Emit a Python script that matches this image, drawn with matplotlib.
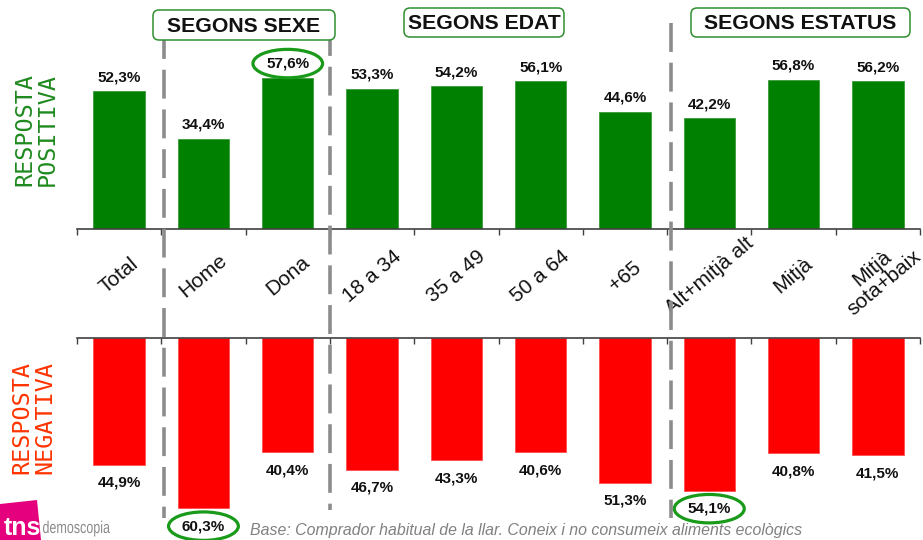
import matplotlib
matplotlib.use("Agg")
import matplotlib.pyplot as plt
from matplotlib.patches import FancyBboxPatch, Polygon, PathPatch
from matplotlib.lines import Line2D
from matplotlib.textpath import TextPath
from matplotlib.font_manager import FontProperties
from matplotlib.transforms import blended_transform_factory, Affine2D, IdentityTransform

# ---- data ----
categories = ["Total", "Home", "Dona", "18 a 34", "35 a 49", "50 a 64", "+65",
              "Alt+mitjà alt", "Mitjà", "Mitjà\nsota+baix"]
positive = [52.3, 34.4, 57.6, 53.3, 54.2, 56.1, 44.6, 42.2, 56.8, 56.2]
negative = [44.9, 60.3, 40.4, 46.7, 43.3, 40.6, 51.3, 54.1, 40.8, 41.5]
highlight_pos = ["Dona"]
highlight_neg = ["Home", "Alt+mitjà alt"]
group_titles = ["SEGONS SEXE", "SEGONS EDAT", "SEGONS ESTATUS"]
footnote = "Base: Comprador habitual de la llar. Coneix i no consumeix aliments ecològics"

def fmt(v):
    return f"{v:.1f}%".replace(".", ",")

W, H = 923, 540
fig = plt.figure(figsize=(W / 100, H / 100), dpi=100)
fig.patch.set_facecolor("white")

def fx(px):
    return px / W

def fy(py):
    return 1 - py / H

x = list(range(len(categories)))
bar_w = 0.61
GREEN = "#008000"
RED = "#FF0000"
RING = "#1a9a1a"
AXIS_C = "#404040"

# top panel (positive answers)
ax_top = fig.add_axes([fx(77), fy(229), fx(920) - fx(77), fy(0) - fy(229)])
ax_top.bar(x, positive, width=bar_w, color=GREEN, edgecolor="#3c9a3c", linewidth=0.6)
ax_top.set_xlim(-0.5, len(categories) - 0.5)
ax_top.set_ylim(0, 229 / 2.63)
for s in ["top", "left", "right"]:
    ax_top.spines[s].set_visible(False)
ax_top.spines["bottom"].set_color(AXIS_C)
ax_top.spines["bottom"].set_linewidth(1.2)
ax_top.set_yticks([])
ax_top.set_xticks([i - 0.5 for i in range(len(categories) + 1)])
ax_top.set_xticklabels([])
ax_top.tick_params(axis="x", direction="out", length=4, color=AXIS_C, width=1.0)
ax_top.patch.set_alpha(0)

for xi, cat, v in zip(x, categories, positive):
    kw = {}
    if cat in highlight_pos:
        kw["bbox"] = dict(boxstyle="ellipse,pad=0.2", fc="none", ec=RING, lw=2.3)
    ax_top.annotate(fmt(v), (xi, v), xytext=(0, 5), textcoords="offset points",
                    ha="center", va="bottom", fontsize=11, fontweight="bold",
                    family="Liberation Sans", color="#111111", **kw)

# bottom panel (negative answers)
ax_bot = fig.add_axes([fx(77), fy(540), fx(920) - fx(77), fy(338) - fy(540)])
ax_bot.bar(x, negative, width=bar_w, color=RED, edgecolor="#ff5050", linewidth=0.6)
ax_bot.set_xlim(-0.5, len(categories) - 0.5)
ax_bot.set_ylim(202 / 2.82, 0)
for s in ["bottom", "left", "right"]:
    ax_bot.spines[s].set_visible(False)
ax_bot.spines["top"].set_color(AXIS_C)
ax_bot.spines["top"].set_linewidth(1.2)
ax_bot.set_yticks([])
ax_bot.xaxis.tick_top()
ax_bot.set_xticks([i - 0.5 for i in range(len(categories) + 1)])
ax_bot.set_xticklabels([])
ax_bot.tick_params(axis="x", direction="in", length=4, color=AXIS_C, width=1.0)
ax_bot.patch.set_alpha(0)

for xi, cat, v in zip(x, categories, negative):
    kw = {}
    if cat in highlight_neg:
        kw["bbox"] = dict(boxstyle="ellipse,pad=0.2", fc="none", ec=RING, lw=2.3)
    ax_bot.annotate(fmt(v), (xi, v), xytext=(0, -8), textcoords="offset points",
                    ha="center", va="top", fontsize=11, fontweight="bold",
                    family="Liberation Sans", color="#111111", **kw)

# category labels between the panels
lab_tr = blended_transform_factory(ax_top.transData, fig.transFigure)
for xi, cat in zip(x, categories):
    fig.text(xi, fy(276), cat, transform=lab_tr, rotation=40,
             rotation_mode="anchor", ha="center", va="center",
             fontsize=15, family="Liberation Sans", color="#111111",
             linespacing=1.0)

# dashed group separators spanning both panels
for xs, y0, y1 in [(0.53, 30, 518), (2.5, 27, 510), (6.55, 23, 518)]:
    ln = Line2D([xs, xs], [fy(y0), fy(y1)], transform=lab_tr, color="#8c8c8c",
                lw=2.6, linestyle=(0, (8, 3)), zorder=5)
    fig.add_artist(ln)

# group title boxes
boxes = [(153, 10, 335, 40), (404, 8, 564, 37), (691, 8, 910, 37)]
for title, (x0, y0, x1, y1) in zip(group_titles, boxes):
    pad = 6
    patch = FancyBboxPatch((fx(x0 + pad), fy(y1 - pad)),
                           fx(x1 - x0 - 2 * pad), (y1 - y0 - 2 * pad) / H,
                           boxstyle=f"round,pad={pad / W},rounding_size={6 / W}",
                           transform=fig.transFigure, fc="white",
                           ec="#2f8f2f", lw=1.1, zorder=6,
                           mutation_aspect=W / H)
    fig.add_artist(patch)
    fig.text(fx((x0 + x1) / 2), fy((y0 + y1) / 2 + 1), title, ha="center",
             va="center", fontsize=15.3, fontweight="bold",
             family="Liberation Sans", color="#111111", zorder=7)

# panel titles
fig.text(fx(36), fy(129), "RESPOSTA\nPOSITIVA", rotation=90, ha="center",
         va="center", fontsize=16.8, family="DejaVu Sans Mono",
         color="#1f8a1f", linespacing=1.0)
fig.text(fx(33), fy(418), "RESPOSTA\nNEGATIVA", rotation=90, ha="center",
         va="center", fontsize=16.8, family="DejaVu Sans Mono",
         color="#ff3300", linespacing=1.0)

# footnote
fig.text(fx(250), fy(531), footnote, ha="left", va="center", fontsize=11.45,
         style="italic", family="Liberation Sans", color="#808080")

# brand mark
logo = Polygon([(fx(0), fy(504)), (fx(37), fy(500)), (fx(41), fy(540)),
                (fx(0), fy(540))], closed=True, transform=fig.transFigure,
               fc="#e5007e", ec="none", zorder=3)
fig.add_artist(logo)
fig.text(fx(4), fy(528), "tns", ha="left", va="center", fontsize=18,
         fontweight="bold", family="Liberation Sans", color="white", zorder=4)

# condensed wordmark drawn as a horizontally squeezed text path
word = TextPath((0, 0), "demoscopia", size=17,
                prop=FontProperties(family="Liberation Sans"))
wb = word.get_extents()
sx = (110 - 43) / wb.width
word_tr = Affine2D().scale(sx, 1.0).translate(43 - wb.x0 * sx, H - 533)
fig.add_artist(PathPatch(word, transform=word_tr + IdentityTransform(),
                         fc="#8a8a8a", ec="none", zorder=4))

fig.savefig("out.png", dpi=100, facecolor="white")
